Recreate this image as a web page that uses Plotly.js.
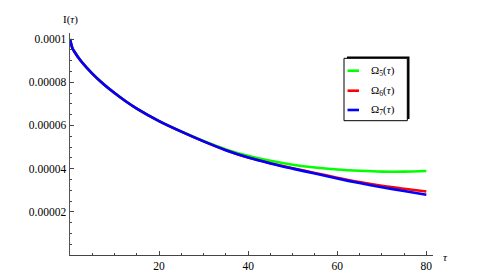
<!DOCTYPE html>
<html>
<head>
<meta charset="utf-8">
<script src="https://cdn.plot.ly/plotly-3.0.1.min.js"></script>
<style>html,body{margin:0;padding:0;background:#fff;}#chart{width:484px;height:279px;}</style>
</head>
<body>
<div id="chart"></div>
<script>
// tau values
const tau = [0, 0.5, 1, 2.5, 5, 7.5, 10, 12.5, 15, 20, 25, 30, 35, 40, 45, 50, 55, 60, 65, 70, 75, 80];
// I(tau) in units of 1e-4
const omega7 = [1.000, 0.960, 0.941, 0.897, 0.840, 0.792, 0.750, 0.712, 0.678, 0.620, 0.571, 0.526, 0.485, 0.451, 0.424, 0.400, 0.377, 0.354, 0.333, 0.314, 0.296, 0.279];
const omega6 = [1.000, 0.960, 0.941, 0.897, 0.840, 0.792, 0.750, 0.712, 0.678, 0.620, 0.571, 0.526, 0.485, 0.451, 0.425, 0.402, 0.380, 0.358, 0.338, 0.321, 0.307, 0.294];
const omega5 = [1.000, 0.960, 0.941, 0.897, 0.840, 0.792, 0.750, 0.712, 0.678, 0.620, 0.572, 0.528, 0.489, 0.459, 0.436, 0.418, 0.405, 0.396, 0.390, 0.386, 0.386, 0.389];
const scale = 1e-4;
const seriesNames = ['Ω<sub>5</sub>(<i>τ</i>)', 'Ω<sub>6</sub>(<i>τ</i>)', 'Ω<sub>7</sub>(<i>τ</i>)'];
const seriesColors = ['#00ff00', '#ff0000', '#0000ff'];
const yTickVals = [0.00002, 0.00004, 0.00006, 0.00008, 0.0001];
const yTickText = ['0.00002', '0.00004', '0.00006', '0.00008', '0.0001'];
const xTickVals = [20, 40, 60, 80];
const xTickText = ['20', '40', '60', '80'];

const ys = [omega5, omega6, omega7];
const traces = ys.map((arr, i) => ({
  x: tau,
  y: arr.map(v => v * scale),
  type: 'scatter',
  mode: 'lines',
  line: {color: seriesColors[i], width: 2.6, shape: 'spline', smoothing: 0.8},
  name: seriesNames[i],
  showlegend: false
}));

// layout geometry (pixels)
const W = 484, H = 279, mL = 70, mR = 51, mT = 33, mB = 24;
const pw = W - mL - mR, ph = H - mT - mB;
const px = x => (x - mL) / pw;           // pixel x -> paper x
const py = y => (H - mB - y) / ph;       // pixel y -> paper y

const serif = "Liberation Serif, Times New Roman, Times, serif";
const shapes = [
  // legend shadow
  {type: 'rect', xref: 'paper', yref: 'paper', x0: px(347), x1: px(409.5), y0: py(119), y1: py(56.5),
   fillcolor: '#000', line: {width: 0}, layer: 'above'},
  // legend box
  {type: 'rect', xref: 'paper', yref: 'paper', x0: px(344), x1: px(407.3), y0: py(120.7), y1: py(58.3),
   fillcolor: '#fff', line: {color: '#000', width: 1}, layer: 'above'}
];
const annotations = [
  {xref: 'paper', yref: 'paper', x: px(70.5), y: py(20), xanchor: 'center', yanchor: 'middle',
   text: 'I(<i>τ</i>)', showarrow: false, font: {family: serif, size: 11, color: '#000'}},
  {xref: 'paper', yref: 'paper', x: px(441), y: py(257), xanchor: 'left', yanchor: 'middle',
   text: '<i>τ</i>', showarrow: false, font: {family: serif, size: 11, color: '#000'}}
];
const entryY = [70.7, 90.7, 110];
seriesNames.forEach((name, i) => {
  shapes.push({type: 'line', xref: 'paper', yref: 'paper', x0: px(347.5), x1: px(359), y0: py(entryY[i]), y1: py(entryY[i]),
    line: {color: seriesColors[i], width: 2.6}, layer: 'above'});
  annotations.push({xref: 'paper', yref: 'paper', x: px(368.5), y: py(entryY[i]), xanchor: 'left', yanchor: 'middle',
    text: name, showarrow: false, font: {family: serif, size: 11, color: '#000'}});
});

const layout = {
  width: W, height: H,
  margin: {l: mL, r: mR, t: mT, b: mB},
  paper_bgcolor: '#fff', plot_bgcolor: '#fff',
  showlegend: false,
  font: {family: serif},
  xaxis: {
    range: [0, 81.5], showgrid: false, zeroline: false,
    showline: true, linecolor: '#444', linewidth: 1,
    ticks: 'inside', ticklen: 4, tickcolor: '#444',
    tickvals: xTickVals, ticktext: xTickText,
    tickfont: {family: serif, size: 11.5, color: '#000'},
    minor: {ticks: 'inside', ticklen: 2, dtick: 5, tickcolor: '#444', showgrid: false}
  },
  yaxis: {
    range: [0, 0.0001028], showgrid: false, zeroline: false,
    showline: true, linecolor: '#555', linewidth: 1.5,
    ticks: 'inside', ticklen: 4, tickcolor: '#444',
    tickvals: yTickVals, ticktext: yTickText,
    tickfont: {family: serif, size: 11.5, color: '#000'},
    minor: {ticks: 'inside', ticklen: 2, dtick: 0.000005, tickcolor: '#444', showgrid: false}
  },
  shapes: shapes,
  annotations: annotations
};

Plotly.newPlot('chart', traces, layout, {staticPlot: true});
</script>
</body>
</html>
